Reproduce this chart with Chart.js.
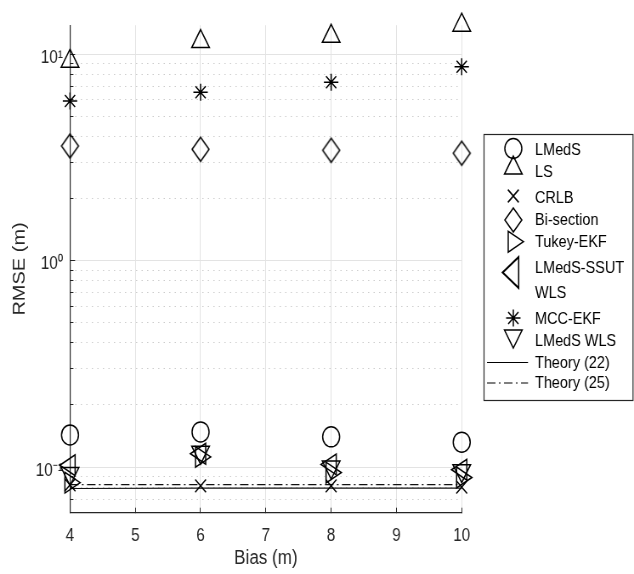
<!DOCTYPE html>
<html>
<head>
<meta charset="utf-8">
<script src="https://cdn.jsdelivr.net/npm/chart.js@4.4.0/dist/chart.umd.min.js"></script>
<style>
  html, body { margin: 0; padding: 0; background: #fff; overflow: hidden; }
  #rmse { display: block; }
</style>
</head>
<body>
<canvas id="rmse" width="746" height="574" style="width:634px;height:574px"></canvas>
<script>
const Bias = [4, 6, 8, 10];
const LMedS = [0.143, 0.148, 0.140, 0.132];
const LS = [9.24, 11.5, 12.2, 13.8];
const CRLB = [0.082, 0.081, 0.081, 0.080];
const BiSection = [3.59, 3.46, 3.42, 3.31];
const TukeyEKF = [0.084, 0.112, 0.094, 0.089];
const LMedSSSUT = [0.102, 0.116, 0.103, 0.097];
const MCCEKF = [5.93, 6.53, 7.31, 8.69];
const LMedSWLS = [0.093, 0.118, 0.100, 0.096];
const Theory22 = [0.0787, 0.0790, 0.0790, 0.0790];
const Theory25 = [0.0822, 0.0822, 0.0822, 0.0822];

const Labels = ['LMedS', 'LS', 'CRLB', 'Bi-section', 'Tukey-EKF', ['LMedS-SSUT', 'WLS'], 'MCC-EKF', 'LMedS WLS', 'Theory (22)', 'Theory (25)'];
const XTicks = [4, 5, 6, 7, 8, 9, 10];
const YMajor = [0.1, 1, 10];
const YLabels = ['10\u207B\u00B9', '10\u2070', '10\u00B9'];
const YMinor = [0.07, 0.08, 0.09, 0.2, 0.3, 0.4, 0.5, 0.6, 0.7, 0.8, 0.9, 2, 3, 4, 5, 6, 7, 8, 9];
const YMin = 0.0601, YMax = 13.8;

// the figure is squeezed horizontally, so draw wider and let css shrink it
const SX = 634 / 746;
function ix(refX) { return refX / SX; }

const FONT = '"Liberation Sans", Arial, Helvetica, sans-serif';
Chart.defaults.font.family = FONT;
Chart.defaults.color = '#262626';

// MATLAB diamond is taller than wide
const diamond = document.createElement('canvas');
diamond.width = 24; diamond.height = 28;
(function () {
  const c = diamond.getContext('2d');
  c.strokeStyle = '#000';
  c.lineWidth = 1.5;
  c.beginPath();
  c.moveTo(12, 2); c.lineTo(22, 14); c.lineTo(12, 26); c.lineTo(2, 14);
  c.closePath();
  c.stroke();
})();

function pts(values) {
  return Bias.map((x, i) => ({x: x, y: values[i]}));
}

function markerSet(label, values, style, radius, rotation) {
  return {
    label: label,
    data: pts(values),
    showLine: false,
    pointStyle: style,
    pointRadius: radius,
    pointRotation: rotation || 0,
    pointBorderColor: '#000',
    pointBackgroundColor: 'rgba(0,0,0,0)',
    pointBorderWidth: 1.5,
    borderColor: '#000',
    clip: false
  };
}

function lineSet(label, values, dash) {
  return {
    label: label,
    data: pts(values),
    borderColor: '#111',
    borderWidth: 1.2,
    borderDash: dash,
    pointRadius: 0,
    tension: 0,
    fill: false,
    clip: false
  };
}

const datasets = [
  markerSet(Labels[0], LMedS, 'circle', 10),
  markerSet(Labels[1], LS, 'triangle', 12),
  markerSet(Labels[2], CRLB, 'crossRot', 9),
  markerSet(Labels[3], BiSection, diamond, 11),
  markerSet(Labels[4], TukeyEKF, 'triangle', 12, 90),
  markerSet(Labels[5].join(' '), LMedSSSUT, 'triangle', 12, -90),
  markerSet(Labels[6], MCCEKF, 'star', 8.5),
  markerSet(Labels[7], LMedSWLS, 'triangle', 12, 180),
  lineSet(Labels[8], Theory22, []),
  lineSet(Labels[9], Theory25, [10, 4, 2, 4])
];

const legendPlugin = {
  id: 'matlabLegend',
  afterDraw(chart) {
    const ctx = chart.ctx;
    const sets = chart.data.datasets;
    const left = ix(484), right = ix(633), top = 134.5, bottom = 400.5;
    const mx = ix(513.3), tx = ix(535);
    // marker y, text y
    const rows = [
      [148.5, 150], [168, 172], [196, 198], [220, 220], [241.7, 242],
      [272.5, [268, 293]], [318, 319], [336, 341], [362.5, 363], [383, 383]
    ];
    ctx.save();
    ctx.fillStyle = '#fff';
    ctx.fillRect(left, top, right - left, bottom - top);
    ctx.strokeStyle = '#262626';
    ctx.lineWidth = 1.2;
    ctx.strokeRect(left, top, right - left, bottom - top);

    ctx.font = '17px ' + FONT;
    ctx.textBaseline = 'middle';
    ctx.textAlign = 'left';
    rows.forEach(function (r, i) {
      const d = sets[i];
      ctx.strokeStyle = '#000';
      ctx.fillStyle = 'rgba(0,0,0,0)';
      if (d.showLine === false) {
        const opts = {pointStyle: d.pointStyle, rotation: d.pointRotation, radius: d.pointRadius, borderWidth: 1.5};
        ctx.lineWidth = 1.5;
        ctx.save();
        ctx.translate(mx, r[0]);
        if (Array.isArray(r[1])) ctx.scale(1.05, 1.5);
        Chart.helpers.drawPoint(ctx, opts, 0, 0);
        ctx.restore();
      } else {
        ctx.lineWidth = 1.2;
        ctx.setLineDash(d.borderDash || []);
        ctx.beginPath();
        ctx.moveTo(ix(487), r[0]);
        ctx.lineTo(ix(528), r[0]);
        ctx.stroke();
        ctx.setLineDash([]);
      }
      ctx.fillStyle = '#000';
      const text = Labels[i];
      if (Array.isArray(text)) {
        text.forEach(function (t, k) { ctx.fillText(t, tx, r[1][k]); });
      } else {
        ctx.fillText(text, tx, r[1]);
      }
    });
    ctx.restore();
  }
};

const canvas = document.getElementById('rmse');
const ctx = canvas.getContext('2d');
const chart = new Chart(ctx, {
  type: 'line',
  data: { datasets: datasets },
  options: {
    responsive: false,
    animation: false,
    devicePixelRatio: 1,
    events: [],
    layout: { padding: { top: 19, left: 7.5, right: 746 - ix(461.7), bottom: 0 } },
    plugins: {
      legend: { display: false },
      tooltip: { enabled: false }
    },
    scales: {
      x: {
        type: 'linear',
        min: 4,
        max: 10,
        afterBuildTicks: function (scale) { scale.ticks = XTicks.map(v => ({value: v})); },
        afterFit: function (scale) { scale.height = 574 - 512.7; },
        ticks: { autoSkip: false, maxRotation: 0, padding: 17.5, font: { size: 18 }, color: '#262626' },
        grid: { color: '#e3e3e3', lineWidth: 1, tickColor: '#262626', tickLength: -5 },
        border: { color: '#262626', width: 1.2 },
        title: { display: true, text: 'Bias (m)', font: { size: 20 }, color: '#262626', padding: 4 }
      },
      y: {
        type: 'logarithmic',
        position: 'left',
        weight: 1,
        min: YMin,
        max: YMax,
        afterBuildTicks: function (scale) { scale.ticks = YMajor.map(v => ({value: v})); },
        afterFit: function (scale) { scale.width = ix(70) - 7.5; },
        ticks: {
          padding: 14.4,
          labelOffset: 3.5,
          font: { size: 18 },
          color: '#262626',
          callback: function (v) { return YLabels[YMajor.indexOf(v)]; }
        },
        grid: { color: '#e3e3e3', lineWidth: 1, tickColor: '#262626', tickLength: -6 },
        border: { color: '#262626', width: 1.2 },
        title: { display: true, text: 'RMSE (m)', font: { size: 20 }, color: '#262626', padding: 4 }
      },
      yMinor: {
        type: 'logarithmic',
        position: 'left',
        weight: 0,
        min: YMin,
        max: YMax,
        afterBuildTicks: function (scale) { scale.ticks = YMinor.map(v => ({value: v})); },
        afterFit: function (scale) { scale.width = 0; },
        ticks: { display: false },
        grid: { color: '#cdcdcd', lineWidth: 1, tickColor: '#262626', tickLength: -4 },
        border: { display: false, dash: [1.5, 5] }
      }
    }
  },
  plugins: [legendPlugin]
});
canvas.style.width = '634px';
canvas.style.height = '574px';
</script>
</body>
</html>
